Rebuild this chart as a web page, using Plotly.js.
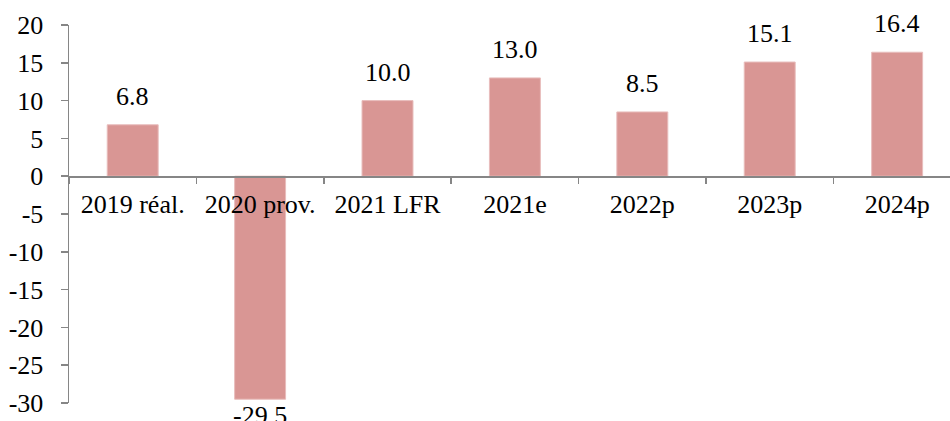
<!DOCTYPE html>
<html>
<head>
<meta charset="utf-8">
<script src="https://cdn.plot.ly/plotly-3.0.1.min.js"></script>
<style>
html,body{margin:0;padding:0;background:#fff;}
#chart{width:950px;height:421px;}
#chart text{font-family:"Liberation Serif","Times New Roman",Tinos,"DejaVu Serif",serif !important;}
</style>
</head>
<body>
<div id="chart"></div>
<script>
var categories = ["2019 réal.", "2020 prov.", "2021 LFR", "2021e", "2022p", "2023p", "2024p"];
var values = [6.8, -29.5, 10.0, 13.0, 8.5, 15.1, 16.4];
var yTickVals = [-30, -25, -20, -15, -10, -5, 0, 5, 10, 15, 20];
var yTickText = ["-30", "-25", "-20", "-15", "-10", "-5", "0", "5", "10", "15", "20"];

var FONT = "Liberation Serif";
var FS = 26;
var AXIS = "#868686";

var annotations = values.map(function (v, i) {
  return {
    x: categories[i], y: v, xref: "x", yref: "y",
    text: v.toFixed(1),
    showarrow: false,
    yanchor: v >= 0 ? "bottom" : "top",
    yshift: v >= 0 ? 12 : 0,
    font: {family: FONT, size: FS, color: "#000"}
  };
});

var trace = {
  type: "bar",
  x: categories,
  y: values,
  width: 0.4,
  marker: {color: "#D99694", line: {color: "#E8BDBC", width: 1}},
  hoverinfo: "none"
};

var layout = {
  width: 950, height: 421,
  margin: {l: 69, r: 0, t: 25, b: 18, pad: 0},
  paper_bgcolor: "#fff", plot_bgcolor: "#fff",
  showlegend: false,
  font: {family: FONT, size: FS, color: "#000"},
  xaxis: {
    type: "category",
    range: [-0.5, 6.415],
    anchor: "free", position: 0.6,
    showline: true, linecolor: AXIS, linewidth: 1.5,
    ticks: "outside", tickson: "boundaries", ticklen: 6, tickcolor: AXIS, tickwidth: 1.5,
    showgrid: false, zeroline: false,
    tickfont: {family: FONT, size: FS, color: "#000"},
    ticklabelstandoff: 4
  },
  yaxis: {
    range: [-30, 20],
    tickmode: "array", tickvals: yTickVals, ticktext: yTickText,
    showline: true, linecolor: AXIS, linewidth: 1.5,
    ticks: "outside", ticklen: 7, tickcolor: AXIS, tickwidth: 1.5,
    showgrid: false, zeroline: false,
    tickfont: {family: FONT, size: FS, color: "#000"},
    ticklabelstandoff: 12
  },
  annotations: annotations
};

Plotly.newPlot("chart", [trace], layout, {staticPlot: true, displayModeBar: false});
</script>
</body>
</html>
